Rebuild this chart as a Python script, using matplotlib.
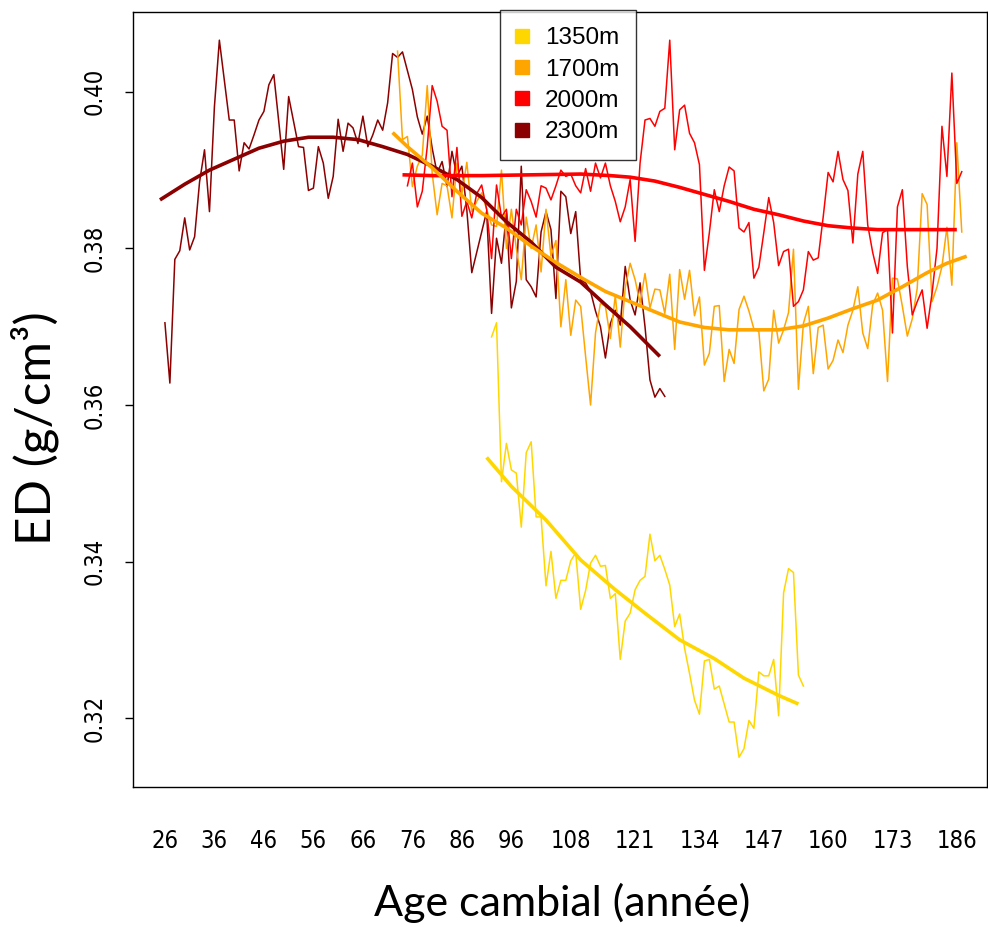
import numpy as np
import matplotlib
matplotlib.use("Agg")
import matplotlib.pyplot as plt
from matplotlib.lines import Line2D
from matplotlib import font_manager

# ---- data ------------------------------------------------------------------
ED_2300 = [0.3705, 0.3628, 0.3786, 0.3797, 0.3839, 0.3798, 0.3815, 0.3885, 0.3926, 0.3847,
           0.3981, 0.4066, 0.4015, 0.3964, 0.3964, 0.3899, 0.3935, 0.3927, 0.3945, 0.3964,
           0.3975, 0.4009, 0.4022, 0.3962, 0.3901, 0.3994, 0.3962, 0.3930, 0.3929, 0.3874,
           0.3877, 0.3930, 0.3909, 0.3864, 0.3892, 0.3965, 0.3924, 0.3960, 0.3954, 0.3934,
           0.3969, 0.3930, 0.3945, 0.3964, 0.3951, 0.3986, 0.4049, 0.4044, 0.4051, 0.4027,
           0.4003, 0.3968, 0.3946, 0.3969, 0.3928, 0.3896, 0.3911, 0.3879, 0.3924, 0.3892,
           0.3905, 0.3849, 0.3769, 0.3795, 0.3821, 0.3847, 0.3717, 0.3813, 0.3781, 0.3845,
           0.3724, 0.3758, 0.3905, 0.3760, 0.3751, 0.3738, 0.3821, 0.3847, 0.3824, 0.3736,
           0.3873, 0.3866, 0.3819, 0.3847, 0.3760, 0.3756, 0.3745, 0.3720, 0.3700, 0.3660,
           0.3704, 0.3721, 0.3702, 0.3777, 0.3734, 0.3715, 0.3756, 0.3700, 0.3632, 0.3610,
           0.3621, 0.3611]
START_2300 = 26

ED_1700 = [0.4052, 0.3939, 0.3943, 0.3879, 0.3905, 0.3919, 0.4008, 0.3896, 0.3843, 0.3883,
           0.3880, 0.3839, 0.3909, 0.3870, 0.3910, 0.3847, 0.3860, 0.3871, 0.3850, 0.3830,
           0.3828, 0.3900, 0.3800, 0.3850, 0.3800, 0.3760, 0.3840, 0.3800, 0.3830, 0.3770,
           0.3850, 0.3790, 0.3810, 0.3700, 0.3760, 0.3689, 0.3734, 0.3726, 0.3662, 0.3600,
           0.3692, 0.3730, 0.3726, 0.3685, 0.3740, 0.3674, 0.3750, 0.3781, 0.3760, 0.3730,
           0.3768, 0.3724, 0.3748, 0.3747, 0.3717, 0.3767, 0.3671, 0.3773, 0.3735, 0.3772,
           0.3714, 0.3738, 0.3651, 0.3666, 0.3726, 0.3727, 0.3630, 0.3671, 0.3653, 0.3722,
           0.3739, 0.3720, 0.3697, 0.3694, 0.3618, 0.3633, 0.3721, 0.3679, 0.3696, 0.3718,
           0.3799, 0.3620, 0.3704, 0.3726, 0.3640, 0.3699, 0.3702, 0.3646, 0.3657, 0.3683,
           0.3667, 0.3702, 0.3721, 0.3751, 0.3692, 0.3672, 0.3728, 0.3743, 0.3721, 0.3630,
           0.3762, 0.3761, 0.3726, 0.3688, 0.3710, 0.3749, 0.3870, 0.3856, 0.3732, 0.3751,
           0.3777, 0.3827, 0.3753, 0.3935, 0.3821]
START_1700 = 73

ED_2000 = [0.3880, 0.3909, 0.3853, 0.3873, 0.3930, 0.4008, 0.3988, 0.3956, 0.3951, 0.3866,
           0.3929, 0.3841, 0.3860, 0.3839, 0.3870, 0.3881, 0.3850, 0.3787, 0.3881, 0.3840,
           0.3850, 0.3787, 0.3850, 0.3830, 0.3875, 0.3860, 0.3840, 0.3880, 0.3877, 0.3862,
           0.3880, 0.3900, 0.3892, 0.3895, 0.3880, 0.3871, 0.3902, 0.3873, 0.3909, 0.3890,
           0.3909, 0.3880, 0.3860, 0.3834, 0.3853, 0.3888, 0.3809, 0.3909, 0.3964, 0.3966,
           0.3956, 0.3975, 0.3979, 0.4066, 0.3926, 0.3977, 0.3983, 0.3947, 0.3935, 0.3907,
           0.3772, 0.3820, 0.3875, 0.3847, 0.3880, 0.3904, 0.3899, 0.3826, 0.3821, 0.3833,
           0.3762, 0.3776, 0.3820, 0.3865, 0.3833, 0.3778, 0.3796, 0.3799, 0.3726, 0.3732,
           0.3747, 0.3796, 0.3785, 0.3788, 0.3840, 0.3897, 0.3885, 0.3924, 0.3888, 0.3874,
           0.3807, 0.3895, 0.3924, 0.3830, 0.3795, 0.3768, 0.3820, 0.3824, 0.3692, 0.3853,
           0.3875, 0.3777, 0.3715, 0.3732, 0.3747, 0.3698, 0.3743, 0.3800, 0.3956, 0.3892,
           0.4024, 0.3883, 0.3898]
START_2000 = 75

ED_1350 = [0.3687, 0.3705, 0.3502, 0.3551, 0.3517, 0.3513, 0.3444, 0.3539, 0.3553, 0.3457,
           0.3457, 0.3369, 0.3413, 0.3353, 0.3376, 0.3376, 0.3401, 0.3411, 0.3339, 0.3363,
           0.3398, 0.3408, 0.3394, 0.3395, 0.3353, 0.3359, 0.3275, 0.3324, 0.3334, 0.3364,
           0.3376, 0.3381, 0.3435, 0.3401, 0.3408, 0.3390, 0.3370, 0.3317, 0.3333, 0.3289,
           0.3257, 0.3223, 0.3205, 0.3273, 0.3275, 0.3237, 0.3241, 0.3218, 0.3195, 0.3195,
           0.3150, 0.3161, 0.3197, 0.3187, 0.3259, 0.3254, 0.3254, 0.3275, 0.3203, 0.3360,
           0.3391, 0.3386, 0.3255, 0.3241]
START_1350 = 92

# smoothed curves (read at a few ages)
FIT_AGE_2300 = [25, 30, 35, 40, 45, 50, 55, 60, 65, 70, 75, 80, 85, 90, 95, 100, 105, 110, 115, 120, 126]
FIT_ED_2300 = [0.3862, 0.3882, 0.3900, 0.3914, 0.3928, 0.3937, 0.3942, 0.3942, 0.3939, 0.3930,
               0.3920, 0.3905, 0.3888, 0.3865, 0.3834, 0.3808, 0.3776, 0.3757, 0.3728, 0.3700, 0.3662]
FIT_AGE_1700 = [72, 75, 80, 85, 90, 95, 100, 105, 110, 115, 120, 125, 130, 135, 140, 145, 150,
                155, 160, 165, 170, 175, 180, 184, 188]
FIT_ED_1700 = [0.3948, 0.3930, 0.3903, 0.3873, 0.3845, 0.3826, 0.3803, 0.3782, 0.3763, 0.3745,
               0.3732, 0.3719, 0.3706, 0.3699, 0.3696, 0.3696, 0.3696, 0.3701, 0.3711, 0.3723,
               0.3734, 0.3751, 0.3769, 0.3781, 0.3790]
FIT_AGE_2000 = [74, 80, 90, 100, 110, 116, 120, 125, 130, 135, 140, 145, 150, 155, 160, 165, 170, 186]
FIT_ED_2000 = [0.3894, 0.3893, 0.3893, 0.3894, 0.3895, 0.3893, 0.3891, 0.3886, 0.3878, 0.3869,
               0.3860, 0.3850, 0.3843, 0.3835, 0.3829, 0.3826, 0.3824, 0.3824]
FIT_AGE_1350 = [91, 96, 103, 110, 117, 123, 130, 137, 143, 150, 154]
FIT_ED_1350 = [0.3533, 0.3496, 0.3453, 0.3402, 0.3364, 0.3334, 0.3300, 0.3276, 0.3251, 0.3229, 0.3218]

SITES = ['1350m', '1700m', '2000m', '2300m']
COLORS = {'1350m': '#FFD700', '1700m': '#FFA500', '2000m': '#FF0000', '2300m': '#8B0000'}
XTICKS = [26, 36, 46, 56, 66, 76, 86, 96, 108, 121, 134, 147, 160, 173, 186]
YTICKS = [0.32, 0.34, 0.36, 0.38, 0.40]

raw = {'1350m': (START_1350, ED_1350), '1700m': (START_1700, ED_1700),
       '2000m': (START_2000, ED_2000), '2300m': (START_2300, ED_2300)}
fits = {'1350m': (FIT_AGE_1350, FIT_ED_1350), '1700m': (FIT_AGE_1700, FIT_ED_1700),
        '2000m': (FIT_AGE_2000, FIT_ED_2000), '2300m': (FIT_AGE_2300, FIT_ED_2300)}

# condensed face for the tick labels, if one is installed
cond = None
for f in font_manager.fontManager.ttflist:
    if 'Condensed' in f.fname or 'Narrow' in f.fname:
        if f.name in ('DejaVu Sans', 'Liberation Sans Narrow') and f.weight in (400, 'normal') \
                and f.style == 'normal':
            cond = f.fname
            break
tick_font = font_manager.FontProperties(fname=cond, size=17) if cond else \
    font_manager.FontProperties(family='Liberation Sans', size=15)

# ---- figure -------------------------------------------------------------------
W, H = 988, 927
fig = plt.figure(figsize=(W / 100, H / 100), dpi=100)
ax = fig.add_axes([133 / W, 1 - 787 / H, 854 / W, 775 / H])

for site in ['2300m', '1700m', '2000m', '1350m']:
    start, vals = raw[site]
    ages = np.arange(start, start + len(vals))
    ax.plot(ages, vals, color=COLORS[site], lw=1.1, zorder=2)

for site in ['2300m', '2000m', '1700m', '1350m']:
    a, v = fits[site]
    ax.plot(a, v, color=COLORS[site], lw=2.6, zorder=3, solid_capstyle='butt')

ax.set_xlim(19.55, 192.1)
ax.set_ylim(0.3112, 0.4102)

ax.set_xticks(XTICKS)
ax.set_xticklabels([str(t) for t in XTICKS], fontproperties=tick_font)
ax.tick_params(axis='x', length=0, pad=30)
ax.set_yticks(YTICKS)
ax.set_yticklabels([f'{t:.2f}' for t in YTICKS], fontproperties=tick_font,
                   rotation=90, va='center')
ax.tick_params(axis='y', length=6, width=1, pad=13)
for s in ax.spines.values():
    s.set_linewidth(1.0)

fig.text(562 / W, 1 - 903 / H, 'Age cambial (année)', ha='center', va='center',
         family=['Lato', 'DejaVu Sans'], fontsize=31)
fig.text(35 / W, 1 - 428 / H, 'ED (g/cm³)', ha='center', va='center', rotation=90,
         family=['Lato', 'DejaVu Sans'], fontsize=35.5)

handles = [Line2D([], [], ls='', marker='s', markersize=9.5, color=COLORS[s]) for s in SITES]
leg = ax.legend(handles, SITES, loc='upper left', bbox_to_anchor=(0.4297, 1.002),
                borderaxespad=0, frameon=True, fancybox=False,
                handlelength=0.41, handletextpad=0.74, labelspacing=0.38,
                borderpad=0.7, prop={'family': ['Liberation Sans', 'DejaVu Sans'], 'size': 17.5})
leg.get_frame().set_edgecolor('black')
leg.get_frame().set_linewidth(1.0)
leg.set_zorder(5)

fig.savefig('out.png', dpi=100)
